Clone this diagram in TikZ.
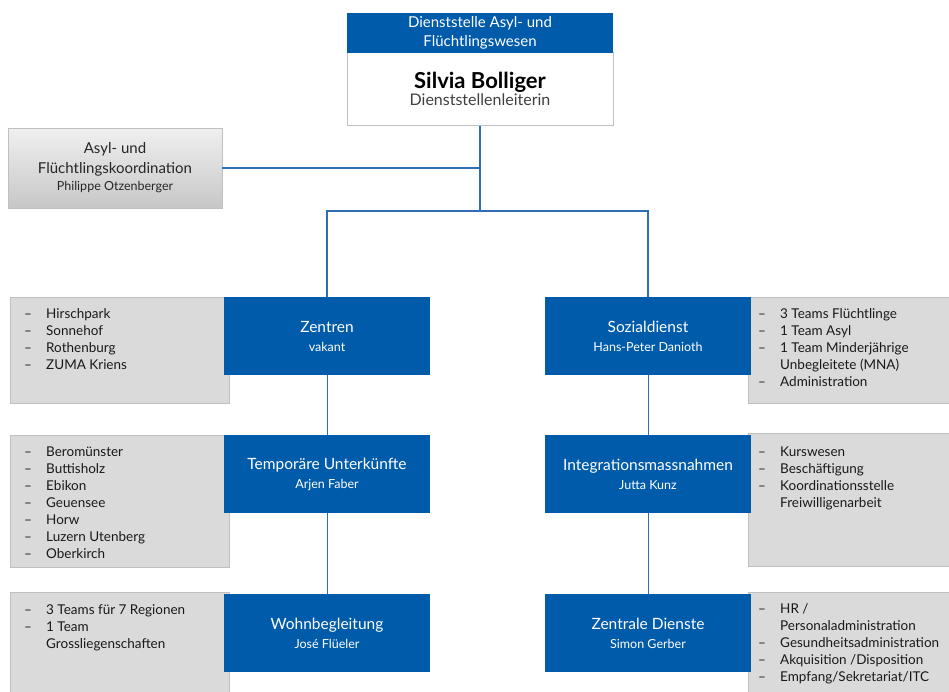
\documentclass[tikz,border=0pt]{standalone}
\usepackage{fontspec}
\setmainfont{Lato}
\definecolor{amtblau}{RGB}{0,91,170}
\definecolor{linienblau}{RGB}{45,110,180}
\definecolor{listgrau}{RGB}{218,218,218}
\definecolor{randgrau}{RGB}{192,192,192}
\newcommand{\punkt}[1]{\makebox[22pt][l]{--}#1\\}
\newcommand{\weiter}[1]{\hspace*{22pt}#1\\}
\tikzset{
  abteilung/.style={fill=amtblau, text=white, minimum width=206pt, minimum height=78pt,
    align=center, inner sep=0pt, font=\fontsize{15.5}{19}\selectfont},
  listbox/.style={fill=listgrau, draw=randgrau, anchor=north west, inner sep=0pt},
  listtext/.style={anchor=north west, align=left, inner sep=0pt, text=black!90,
    font=\fontsize{13.5}{17}\selectfont},
  verbindung/.style={draw=linienblau, line width=1.4pt},
  duenn/.style={draw=linienblau, line width=0.9pt}
}
\newcommand{\sub}[1]{{\fontsize{12.5}{15}\selectfont #1}}
\begin{document}
\begin{tikzpicture}[x=1pt,y=-1pt]
  \useasboundingbox (0,0) rectangle (949,691);

  % Leitung oben
  \node[fill=white, draw=randgrau, minimum width=266pt, minimum height=73pt, inner sep=0pt,
        align=center] (leitung) at (480,89)
        {{\fontsize{22}{24}\selectfont\bfseries Silvia Bolliger}\\[0pt]
         {\fontsize{16}{18}\selectfont\color{black!75} Dienststellenleiterin}};
  \node[fill=amtblau, text=white, minimum width=266pt, minimum height=40pt, inner sep=0pt,
        align=center, font=\fontsize{15}{19}\selectfont] (kopf) at (480,33)
        {Dienststelle Asyl- und\\Flüchtlingswesen};

  % Stab
  \node[top color=black!6, bottom color=black!22, draw=randgrau, minimum width=214pt,
        minimum height=80pt, inner sep=0pt, align=center, text=black!85,
        font=\fontsize{15}{20}\selectfont] (koord) at (115,168)
        {Asyl- und\\Flüchtlingskoordination\\[-3pt]\sub{Philippe Otzenberger}};

  \coordinate (knoten) at (480,211);

  % graue Listen links
  \node[listbox, minimum width=219pt, minimum height=106pt] (zliste) at (10,297) {};
  \node[listbox, minimum width=219pt, minimum height=132pt] (tliste) at (10,435) {};
  \node[listbox, minimum width=219pt, minimum height=110pt] (wliste) at (10,592) {};
  % graue Listen rechts
  \node[listbox, minimum width=210pt, minimum height=106pt] (sliste) at (748,297) {};
  \node[listbox, minimum width=210pt, minimum height=133pt] (iliste) at (748,433) {};
  \node[listbox, minimum width=210pt, minimum height=110pt] (dliste) at (748,592) {};

  \node[listtext] at ([shift={(14,11)}]zliste.north west)
    {\punkt{Hirschpark}\punkt{Sonnehof}\punkt{Rothenburg}\punkt{ZUMA Kriens}};
  \node[listtext] at ([shift={(14,12)}]tliste.north west)
    {\punkt{Beromünster}\punkt{Buttisholz}\punkt{Ebikon}\punkt{Geuensee}\punkt{Horw}%
     \punkt{Luzern Utenberg}\punkt{Oberkirch}};
  \node[listtext] at ([shift={(14,12)}]wliste.north west)
    {\punkt{3 Teams für 7 Regionen}\punkt{1 Team}\weiter{Grossliegenschaften}};
  \node[listtext] at ([shift={(10,11)}]sliste.north west)
    {\punkt{3 Teams Flüchtlinge}\punkt{1 Team Asyl}\punkt{1 Team Minderjährige}%
     \weiter{Unbegleitete (MNA)}\punkt{Administration}};
  \node[listtext] at ([shift={(10,14)}]iliste.north west)
    {\punkt{Kurswesen}\punkt{Beschäftigung}\punkt{Koordinationsstelle}\weiter{Freiwilligenarbeit}};
  \node[listtext] at ([shift={(10,11)}]dliste.north west)
    {\punkt{HR /}\weiter{Personaladministration}\punkt{Gesundheitsadministration}%
     \punkt{Akquisition /Disposition}\punkt{Empfang/Sekretariat/ITC}};

  % Abteilungen
  \node[abteilung] (zentren) at (327,336) {Zentren\\\sub{vakant}};
  \node[abteilung] (temp)    at (327,474) {Temporäre Unterkünfte\\\sub{Arjen Faber}};
  \node[abteilung] (wohn)    at (327,633) {Wohnbegleitung\\\sub{José Flüeler}};
  \node[abteilung] (sozial)  at (648,336) {Sozialdienst\\\sub{Hans-Peter Danioth}};
  \node[abteilung] (integ)   at (648,474) {Integrationsmassnahmen\\\sub{Jutta Kunz}};
  \node[abteilung] (zentral) at (648,633) {Zentrale Dienste\\\sub{Simon Gerber}};

  % Linien
  \draw[verbindung] (leitung.south) -- (knoten);
  \draw[verbindung] (koord.east) -- (koord.east -| knoten);
  \draw[verbindung] (zentren.north) -- (zentren.north |- knoten) -- (sozial.north |- knoten) -- (sozial.north);
  \draw[duenn] (zentren.south) -- (temp.north);
  \draw[duenn] (temp.south) -- (wohn.north);
  \draw[duenn] (sozial.south) -- (integ.north);
  \draw[duenn] (integ.south) -- (zentral.north);
\end{tikzpicture}
\end{document}
